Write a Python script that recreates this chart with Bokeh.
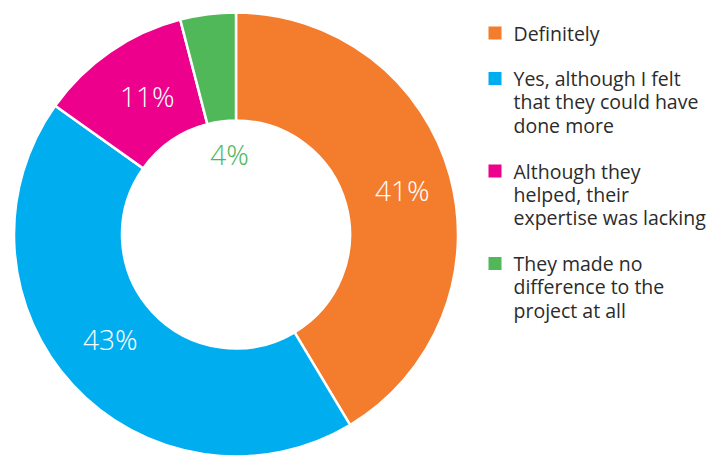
import numpy as np
from bokeh.plotting import figure
from bokeh.models import Range1d, ColumnDataSource
from bokeh.core.properties import value
from bokeh.embed import file_html
from bokeh.resources import INLINE

categories = [
    "Definitely",
    "Yes, although I felt\nthat they could have\ndone more",
    "Although they\nhelped, their\nexpertise was lacking",
    "They made no\ndifference to the\nproject at all",
]
values = [41, 43, 11, 4]
labels = ["41%", "43%", "11%", "4%"]
colors = ["#F47C2D", "#00AEEF", "#EC008C", "#50B858"]
label_colors = ["white", "white", "white", "#50B858"]

W, H = 721, 457
p = figure(width=W, height=H, output_backend="svg", toolbar_location=None,
           x_range=Range1d(0, W), y_range=Range1d(0, H),
           min_border=0)
p.axis.visible = False
p.grid.visible = False
p.outline_line_color = None
p.background_fill_color = "white"

cx, cy = 235.5, H - 234
r_out, r_in = 222, 114

vals = np.array(values, dtype=float)
frac = vals / vals.sum()
cum_end = np.cumsum(frac) * 2 * np.pi
cum_start = cum_end - frac * 2 * np.pi
start = np.pi / 2 - cum_start
end = np.pi / 2 - cum_end

src = ColumnDataSource(dict(start=start, end=end, color=colors))
p.annular_wedge(x=cx, y=cy, inner_radius=r_in, outer_radius=r_out,
                start_angle="start", end_angle="end", direction="clock",
                fill_color="color", line_color="white", line_width=2.5,
                source=src)

mid = (cum_start + cum_end) / 2
lab_r = np.array([172, 164, 164, 80])
lab_dt = np.radians([0.7, 2.8, 1.8, 2.7])
lx = cx + lab_r * np.sin(mid + lab_dt)
ly = cy + lab_r * np.cos(mid + lab_dt) + 1
p.text(x=lx, y=ly, text=labels, text_color=label_colors,
       text_font=value("Open Sans Light"), text_font_size="28px",
       text_align="center", text_baseline="middle")

# legend
sq_y = [32.5, 78, 170.5, 263]
line_h = 23.4
tx, ty, tt = [], [], []
for i, cat in enumerate(categories):
    for j, line in enumerate(cat.split("\n")):
        tx.append(513)
        ty.append(H - (sq_y[i] + j * line_h))
        tt.append(line)
p.rect(x=[494.5] * 4, y=[H - v for v in sq_y], width=13, height=13,
       fill_color=colors, line_color=None)
p.text(x=tx, y=ty, text=tt, text_color="#2b2b2b",
       text_font=value("Open Sans"), text_font_size="19.5px",
       text_align="left", text_baseline="middle")

open("out.html", "w").write(file_html(p, INLINE))
